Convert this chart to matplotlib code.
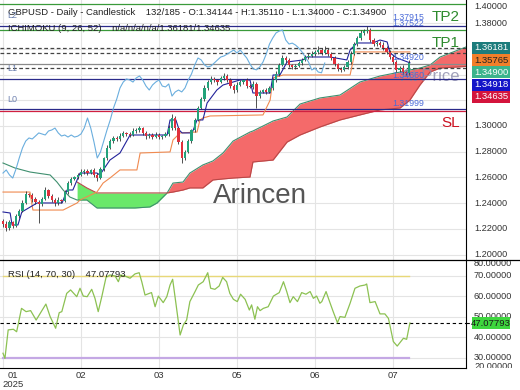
import numpy as np
import matplotlib
matplotlib.use('Agg')
import matplotlib.pyplot as plt
from matplotlib.transforms import blended_transform_factory
from matplotlib.lines import Line2D
from matplotlib.patches import Rectangle

plt.rcParams['font.family'] = ['Liberation Sans', 'DejaVu Sans']

# GBPUSD daily closes (bar 0 = first visible candle)
closes = [
    1.2237, 1.2206, 1.2253, 1.2222, 1.2300, 1.2339, 1.2401, 1.2471, 1.2463, 1.2432,
    1.2409, 1.2393, 1.2432, 1.2502, 1.2455, 1.2424, 1.2401, 1.2424, 1.2416, 1.2486,
    1.2556, 1.2588, 1.2603, 1.2619, 1.2642, 1.2649, 1.2634, 1.2658, 1.2619, 1.2595,
    1.2665, 1.2751, 1.2829, 1.2883, 1.2907, 1.2899, 1.2922, 1.2946, 1.2938, 1.2930,
    1.2961, 1.2969, 1.2984, 1.2946, 1.2922, 1.2930, 1.2914, 1.2930, 1.2914, 1.2921,
    1.2938, 1.2984, 1.3062, 1.2984, 1.2875, 1.2751, 1.2798, 1.2883, 1.2969, 1.3047,
    1.3140, 1.3210, 1.3296, 1.3342, 1.3366, 1.3358, 1.3342, 1.3374, 1.3389, 1.3358,
    1.3311, 1.3280, 1.3319, 1.3342, 1.3358, 1.3311, 1.3304, 1.3327, 1.3233, 1.3265,
    1.3280, 1.3265, 1.3296, 1.3358, 1.3405, 1.3475, 1.3529, 1.3514, 1.3475, 1.3459,
    1.3467, 1.3490, 1.3514, 1.3537, 1.3545, 1.3560, 1.3576, 1.3591, 1.3568, 1.3591,
    1.3560, 1.3529, 1.3482, 1.3444, 1.3437, 1.3459, 1.3498, 1.3560, 1.3638, 1.3685,
    1.3724, 1.3739, 1.3747, 1.3669, 1.3638, 1.3645, 1.3630, 1.3607, 1.3576, 1.3537,
    1.3498, 1.3436, 1.3451, 1.3420, 1.3414, 1.3490]
first_open = 1.2262

# wick lengths in pips above / below the body
wick_up = [
    12, 20, 15, 10, 18, 12, 20, 25, 10, 15, 18, 12, 14, 22, 10, 16, 12, 20, 8, 15,
    14, 18, 10, 12, 20, 14, 16, 10, 12, 18, 15, 10, 20, 14, 18, 12, 20, 16, 10, 14,
    22, 12, 18, 10, 14, 12, 16, 20, 12, 10, 14, 22, 35, 12, 10, 15, 12, 14, 10, 12,
    18, 14, 20, 16, 22, 12, 10, 18, 20, 14, 12, 16, 20, 14, 10, 18, 12, 22, 14, 16,
    10, 12, 18, 14, 20, 16, 24, 14, 12, 10, 16, 14, 18, 12, 20, 22, 18, 30, 14, 28,
    16, 12, 18, 10, 14, 16, 12, 20, 16, 18, 22, 14, 31, 18, 12, 16, 14, 22, 12, 16,
    14, 12, 16, 20, 10, 21]
wick_dn = [
    20, 25, 12, 18, 10, 14, 12, 10, 16, 20, 14, 148, 12, 10, 18, 14, 20, 12, 16, 10,
    12, 14, 10, 16, 12, 18, 14, 10, 16, 20, 10, 12, 14, 10, 16, 12, 18, 10, 14, 12,
    10, 16, 12, 14, 20, 12, 16, 10, 14, 12, 10, 12, 14, 16, 18, 40, 12, 10, 14, 16,
    12, 10, 14, 18, 12, 16, 20, 10, 14, 12, 16, 22, 12, 10, 14, 18, 12, 16, 93, 14,
    12, 16, 10, 14, 12, 18, 10, 14, 16, 12, 14, 10, 16, 12, 14, 10, 18, 12, 16, 10,
    14, 12, 18, 16, 14, 10, 12, 14, 10, 16, 12, 18, 14, 16, 12, 14, 16, 18, 14, 12,
    16, 14, 18, 12, 14, 14]

# ichimoku lines (bar, price)
tenkan_x = [0, 2.2, 2.8, 4.6, 5.8, 10.5, 18.2, 19.7, 21.5, 23.7, 28.9, 29.8, 32.9, 36.0,
            39.1, 50.5, 51.4, 53.2, 54.2, 55.1, 58.2, 59.7, 61.5, 62.8, 65.8, 67.7, 72.9,
            76.0, 76.9, 82.2, 83.1, 85.2, 87.4, 92.3, 93.5, 100.6, 105.8, 106.8, 108.9,
            113.8, 116.0, 118.2, 119.1, 121.2, 125.2]
tenkan_y = [1.2331, 1.2323, 1.2230, 1.2230, 1.2331, 1.2401, 1.2401, 1.2502, 1.2502, 1.2634,
            1.2634, 1.2619, 1.2735, 1.2790, 1.2930, 1.2930, 1.3047, 1.3047, 1.2969, 1.2946,
            1.2946, 1.3047, 1.3047, 1.3179, 1.3280, 1.3319, 1.3358, 1.3358, 1.3257, 1.3257,
            1.3397, 1.3397, 1.3498, 1.3514, 1.3537, 1.3537, 1.3514, 1.3591, 1.3646, 1.3646,
            1.3669, 1.3654, 1.3568, 1.3529, 1.34918]
kijun_x = [0, 8.3, 9.2, 18.5, 22.8, 23.7, 28.9, 30.8, 32.9, 36.0, 41.2, 42.2, 51.4, 52.3,
           54.5, 59.7, 60.6, 61.5, 63.7, 80.0, 82.2, 83.1, 86.2, 106.8, 108.3, 125.2]
kijun_y = [1.2486, 1.2486, 1.2346, 1.2346, 1.2401, 1.2424, 1.2486, 1.2556, 1.2595, 1.2658,
           1.2658, 1.2790, 1.2798, 1.2891, 1.2946, 1.2953, 1.3047, 1.3062, 1.3078, 1.3086,
           1.3202, 1.3374, 1.3397, 1.3397, 1.35765, 1.35765]
span_a_pre_x = [0, 3.7, 8.3, 14.5, 16.6, 18.5, 20.6]
span_a_pre_y = [1.2712, 1.2673, 1.2642, 1.2619, 1.2564, 1.2502, 1.2447]
cloud_x = [22.8, 25.8, 28.9, 33.8, 40.6, 45.2, 47.4, 50.5, 52.3, 55.4, 57.5, 61.5, 64.6,
           67.7, 70.8, 76.0, 76.9, 83.1, 87.4, 91.4, 97.5, 103.7, 109.8, 116.0, 122.2,
           125.2, 128.3, 131.4, 134.5, 142.8]
span_a = [1.2424, 1.2424, 1.2362, 1.2362, 1.2362, 1.2370, 1.2401, 1.2479, 1.2556, 1.2564,
          1.2634, 1.2697, 1.2728, 1.2790, 1.2883, 1.2953, 1.2961, 1.3039, 1.3070, 1.3171,
          1.3218, 1.3241, 1.3342, 1.3389, 1.3420, 1.3436, 1.3451, 1.3475, 1.3537, 1.3618]
span_b = [1.2564, 1.2518, 1.2479, 1.2479, 1.2479, 1.2479, 1.2479, 1.2479, 1.2486, 1.2502,
          1.2518, 1.2518, 1.2580, 1.2588, 1.2595, 1.2603, 1.2720, 1.2735, 1.2875, 1.2930,
          1.2992, 1.3047, 1.3086, 1.3125, 1.3140, 1.3202, 1.3319, 1.3420, 1.3451, 1.3464]
chikou_shift = 26

# RSI (bar, value)
rsi_x = [0, 0.6, 1.6, 3.2, 4.2, 5.7, 7.1, 8.5, 10.2, 13.2, 14.5, 16.2, 17.3, 18.1, 19.6,
         20.8, 22.7, 23.7, 24.7, 25.9, 27.3, 28.3, 29.3, 30.4, 31.7, 32.9, 34.5, 35.5,
         36.2, 37.5, 39.1, 40.6, 41.9, 42.7, 43.7, 45.0, 45.7, 46.8, 47.8, 49.3, 50.4,
         51.4, 52.2, 53.2, 54.5, 55.5, 56.5, 57.5, 59.1, 60.1, 61.6, 63.0, 63.9, 65.2,
         66.5, 67.6, 68.8, 69.8, 70.9, 72.1, 73.1, 74.5, 75.8, 76.5, 77.5, 78.3, 79.1,
         80.1, 81.6, 83.2, 85.0, 86.3, 87.3, 88.3, 89.3, 90.6, 91.9, 93.2, 94.5, 95.5,
         96.5, 97.5, 98.1, 99.4, 100.6, 101.6, 102.9, 103.7, 105.2, 106.8, 108.3, 109.8,
         111.4, 111.9, 112.9, 114.5, 116.0, 117.5, 118.6, 120.1, 121.3, 123.2, 124.2, 125.2]
rsi_v = [32.3, 29.8, 43.7, 44.0, 42.8, 54.2, 52.6, 53.1, 48.5, 56.3, 50.2, 44.5, 52.1, 52.6,
         61.5, 63.2, 59.9, 64.0, 60.2, 59.9, 63.5, 59.1, 52.6, 59.9, 69.3, 70.5, 70.0, 67.2,
         70.5, 70.0, 68.9, 71.0, 71.6, 67.2, 60.7, 61.5, 61.9, 55.0, 60.2, 57.0, 59.9, 65.6,
         68.4, 56.7, 41.2, 46.1, 48.5, 57.5, 62.4, 65.6, 67.2, 71.6, 64.0, 63.5, 65.1, 69.3,
         67.2, 61.5, 58.6, 57.5, 61.1, 58.6, 53.4, 55.9, 48.9, 55.0, 53.1, 54.2, 55.0, 60.2,
         61.9, 67.2, 62.4, 57.0, 59.9, 57.5, 61.9, 61.1, 62.4, 59.1, 60.2, 56.7, 57.5, 62.4,
         57.0, 52.6, 47.2, 50.2, 49.8, 56.7, 64.0, 65.1, 65.6, 66.1, 57.0, 57.5, 51.5, 51.5,
         49.3, 38.0, 35.8, 39.6, 39.1, 47.07793]
rsi_last = 47.07793

# horizontal levels on the price panel
levels = [
    (1.3949, '#3a9a3a', '-'),
    (1.3778, '#2a2a8a', '-'),
    (1.3747, '#3a9a3a', '-'),
    (1.3605, '#444444', (0, (3, 2))),
    (1.3570, '#444444', (0, (3, 2))),
    (1.3482, '#8a8a8a', '-'),
    (1.3449, '#444444', (0, (3, 2))),
    (1.3366, '#2a2a8a', '-'),
    (1.3132, '#2a2a8a', '-'),
    (1.3119, '#d02040', '-'),
]
level_notes = [('1.37915', 0.931), ('1.37522', 0.908), ('1.34920', 0.777),
               ('1.34660', 0.711), ('1.31999', 0.600)]
price_boxes = [('1.36181', '#1c7c7c', 'white'), ('1.35765', '#f27f2a', '#222222'),
               ('1.34900', '#3cb48c', 'white'), ('1.34918', '#1414c8', 'white'),
               ('1.34635', '#d4143c', 'white')]
price_ticks = [1.20, 1.22, 1.24, 1.26, 1.28, 1.30, 1.32, 1.34, 1.36, 1.38, 1.40]
rsi_ticks = [20, 30, 40, 50, 60, 70, 80]
month_ticks = [0, 24, 48, 72, 96, 120]
month_labels = ['01', '02', '03', '05', '06', '07']

opens = [first_open] + closes[:-1]
highs = [max(o, c) + u / 10000 for o, c, u in zip(opens, closes, wick_up)]
lows = [min(o, c) - d / 10000 for o, c, d in zip(opens, closes, wick_dn)]
bars = np.arange(len(closes))

fig = plt.figure(figsize=(5.2, 3.9), dpi=100)
ax = fig.add_axes([0, 130 / 390, 466 / 520, 260 / 390])
ax_r = fig.add_axes([0, 22 / 390, 466 / 520, 108 / 390], sharex=ax)
lab = fig.add_axes([466 / 520, 22 / 390, 54 / 520, 368 / 390])
lab.set_axis_off()

for a in (ax, ax_r):
    a.set_xticks(month_ticks)
    a.tick_params(length=0, labelbottom=False, labelleft=False)
    a.grid(True, color='#e4e4e4', lw=0.8)
    a.set_axisbelow(True)
    for s in ('top', 'left'):
        a.spines[s].set_visible(False)
    a.spines['right'].set_color('black')
    a.spines['bottom'].set_color('black')
ax.set_yticks(price_ticks)
ax_r.set_yticks([30, 40, 50, 60, 70])
ax.spines['bottom'].set_visible(False)

# limits after the ticks, so set_yticks does not widen them
ax.set_xlim(-0.92, 142.46)
ax.set_ylim(1.19572, 1.39805)
ax_r.set_ylim(25.1, 77.8)

# cloud
ax.fill_between(cloud_x, span_a, span_b, where=np.array(span_a) >= np.array(span_b),
                interpolate=True, color='#f46a6a', lw=0, zorder=1)
ax.fill_between(cloud_x, span_a, span_b, where=np.array(span_a) < np.array(span_b),
                interpolate=True, color='#6ae86a', lw=0, zorder=1)
ax.plot(span_a_pre_x + cloud_x, span_a_pre_y + span_a, color='#3f8f6f', lw=0.8, zorder=2)
ax.plot(cloud_x, span_b, color='#b84848', lw=0.8, zorder=2)

for val, col, ls in levels:
    ax.axhline(val, color=col, ls=ls, lw=0.9, zorder=3)

ax.text(0.987, 0.704, 'At Price', transform=ax.transAxes, ha='right', va='center',
        fontsize=12, color='#8c8cac', alpha=0.8, zorder=2)
ax.text(0.558, 0.219, 'Arincen', transform=ax.transAxes, ha='center', va='baseline',
        fontsize=20, color='#555555', zorder=2)

# ichimoku lines
ax.plot(kijun_x, kijun_y, color='#f08a50', lw=0.8, zorder=4)
ax.plot(tenkan_x, tenkan_y, color='#22229a', lw=0.8, zorder=4)
ax.plot(bars[chikou_shift:] - chikou_shift, closes[chikou_shift:], color='#6aaede',
        lw=0.8, zorder=4)

# candles
up = np.array(closes) >= np.array(opens)
body_col = np.where(up, '#23a37a', '#e0303c')
ax.vlines(bars, lows, highs, color='#333333', lw=0.6, zorder=5)
body_lo = np.minimum(opens, closes)
body_h = np.maximum(np.abs(np.array(closes) - np.array(opens)), 0.0003)
ax.bar(bars, body_h, bottom=body_lo, width=0.65, color=body_col, lw=0, zorder=6)

# texts on the price panel
ax.text(0.0172, 0.951, 'GBPUSD - Daily - Candlestick    132/185 - O:1.34144 - H:1.35110 - '
        'L:1.34000 - C:1.34900', transform=ax.transAxes, fontsize=6.8, color='#222222',
        va='center', zorder=7)
ax.text(0.0172, 0.892, 'ICHIMOKU (9, 26, 52)    n/a/n/a/n/a/1.36181/1.34635',
        transform=ax.transAxes, fontsize=6.8, color='#222222', va='center', zorder=7)
for t, yy in (('L2', 0.942), ('L1', 0.735), ('L0', 0.619)):
    ax.text(0.016, yy, t, transform=ax.transAxes, fontsize=6.5, color='#6f82b0',
            va='center', zorder=7)
for t, yy in level_notes:
    ax.text(0.841, yy, t, transform=ax.transAxes, fontsize=6.3, color='#4a6ad8',
            va='center', zorder=7)
ax.text(0.987, 0.935, 'TP2', transform=ax.transAxes, ha='right', va='center',
        fontsize=11, color='#2e8b2e', zorder=7)
ax.text(0.987, 0.835, 'TP1', transform=ax.transAxes, ha='right', va='center',
        fontsize=11, color='#2e8b2e', zorder=7)
ax.text(0.987, 0.527, 'SL', transform=ax.transAxes, ha='right', va='center',
        fontsize=11, color='#cc1020', zorder=7)

# RSI panel
rsi_end = bars[-1]
ax_r.plot([0, rsi_end], [70, 70], color='#e8d878', lw=1.0)
ax_r.plot([0, rsi_end], [30, 30], color='#c4a8e4', lw=1.6)
ax_r.axhline(rsi_last, color='black', ls=(0, (3, 2.5)), lw=0.8)
ax_r.plot(rsi_x, rsi_v, color='#8cc152', lw=0.9)
ax_r.text(0.0172, 0.87, 'RSI (14, 70, 30)    47.07793', transform=ax_r.transAxes,
          fontsize=6.8, color='#222222', va='center')

# month labels
tr = blended_transform_factory(ax_r.transData, ax_r.transAxes)
for i, (m, lbl) in enumerate(zip(month_ticks, month_labels)):
    xx = 3 if i == 0 else m
    ax_r.text(xx, -0.065, lbl, transform=tr, ha='center', va='center', fontsize=6.8,
              color='#333333', clip_on=False)
ax_r.text(3, -0.15, '2025', transform=tr, ha='center', va='center', fontsize=6.8,
          color='#333333', clip_on=False)

# right-hand scale labels
tp = blended_transform_factory(lab.transAxes, ax.transData)
ptop = ax.get_ylim()[1]
for p in price_ticks:
    if p > ptop:
        lab.text(0.148, 0.995, '%.5f' % p, transform=lab.transAxes, va='top', fontsize=6.6,
                 color='#333333', clip_on=False)
    else:
        lab.text(0.148, p, '%.5f' % p, transform=tp, va='center', fontsize=6.6,
                 color='#333333', clip_on=True)
trr = blended_transform_factory(lab.transAxes, ax_r.transData)
rlo, rhi = ax_r.get_ylim()
for r in rsi_ticks:
    if r > rhi:
        lab.text(0.148, 1 - (260 - 1) / 368, '%.5f' % r, transform=lab.transAxes, va='top',
                 fontsize=6.6, color='#333333', clip_on=True)
    elif r < rlo:
        # bottom label sits on the panel edge, only its upper half shows
        lab.text(0.148, 0.004, '%.5f' % r, transform=lab.transAxes, va='center',
                 fontsize=6.6, color='#333333', clip_on=True)
    else:
        lab.text(0.148, r, '%.5f' % r, transform=trr, va='center', fontsize=6.6,
                 color='#333333', clip_on=True)

box_h = 12 / 368
for k, (t, bg, fg) in enumerate(price_boxes):
    yc = 1 - (48 + 12.2 * k) / 368
    lab.add_patch(Rectangle((0.111, yc - box_h / 2), 0.704, box_h, transform=lab.transAxes,
                            facecolor=bg, edgecolor='none', zorder=5))
    lab.text(0.463, yc, t, transform=lab.transAxes, ha='center', va='center',
             fontsize=6.8, color=fg, zorder=6)
lab.plot([0, 0.111], [rsi_last, rsi_last], transform=trr, color='black',
         ls=(0, (3, 2.5)), lw=0.8)
yc = 1 - 323 / 368
lab.add_patch(Rectangle((0.111, yc - box_h / 2), 0.704, box_h, transform=lab.transAxes,
                        facecolor='#3ed63e', edgecolor='none', zorder=5))
lab.text(0.463, yc, '47.07793', transform=lab.transAxes, ha='center', va='center',
         fontsize=6.8, color='#1a1a1a', zorder=6)

# separator between the panels spans the full width
fig.add_artist(Line2D([0, 1], [130 / 390, 130 / 390], color='black', lw=0.9))

fig.savefig('out.png', dpi=100, facecolor='white')
